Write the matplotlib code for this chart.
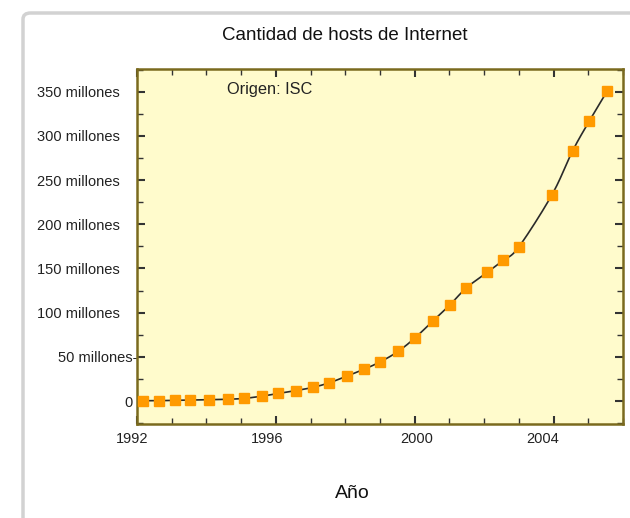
import numpy as np
import matplotlib
matplotlib.use("Agg")
import matplotlib.pyplot as plt
from matplotlib.patches import FancyBboxPatch
from matplotlib.ticker import MultipleLocator, FixedLocator
import matplotlib.transforms as mtransforms

plt.rcParams['font.family'] = ['Liberation Sans', 'DejaVu Sans']

# Data (year, millions of hosts)
years = [1992.17, 1992.62, 1993.10, 1993.54, 1994.06, 1994.63, 1995.09, 1995.60,
         1996.07, 1996.58, 1997.06, 1997.54, 1998.04, 1998.53, 1999.01, 1999.52,
         2000.01, 2000.53, 2001.01, 2001.49, 2002.09, 2002.55, 2002.99,
         2003.95, 2004.55, 2005.03, 2005.55]
hosts = [0.3, 0.4, 0.8, 1.2, 1.5, 2.0, 3.0, 5.5,
         8.6, 11.8, 15.4, 20.6, 28.2, 35.8, 44.4, 56.1,
         71.5, 90.8, 108.6, 128.1, 145.6, 159.2, 173.9,
         233.1, 283.2, 316.8, 351.1]
ytick_vals = [0, 50, 100, 150, 200, 250, 300, 350]
ytick_labels = ["0", "50 millones-", "100 millones", "150 millones", "200 millones",
                "250 millones", "300 millones", "350 millones"]
xtick_vals = [1992, 1996, 2000, 2004]
xtick_labels = ["1992", "1996", "2000", "2004"]
title = "Cantidad de hosts de Internet"
xlabel = "Año"
note = "Origen: ISC"


def catmull_rom(x, y, n=20):
    x = np.asarray(x, float)
    y = np.asarray(y, float)
    px = np.concatenate([[2 * x[0] - x[1]], x, [2 * x[-1] - x[-2]]])
    py = np.concatenate([[2 * y[0] - y[1]], y, [2 * y[-1] - y[-2]]])
    xs, ys = [], []
    t = np.linspace(0, 1, n, endpoint=False)
    for i in range(1, len(px) - 2):
        for P, out in ((px, xs), (py, ys)):
            p0, p1, p2, p3 = P[i - 1], P[i], P[i + 1], P[i + 2]
            out.append(0.5 * ((2 * p1) + (-p0 + p2) * t +
                              (2 * p0 - 5 * p1 + 4 * p2 - p3) * t ** 2 +
                              (-p0 + 3 * p1 - 3 * p2 + p3) * t ** 3))
    xs.append([x[-1]])
    ys.append([y[-1]])
    return np.concatenate(xs), np.concatenate(ys)


W, H = 630, 518
fig = plt.figure(figsize=(W / 100, H / 100), dpi=100)
fig.patch.set_facecolor("white")

# outer panel
panel = FancyBboxPatch((23 / W, -0.05), 1.2, 1 - 13 / H + 0.05,
                       boxstyle="round,pad=0,rounding_size=0.012",
                       transform=fig.transFigure, facecolor="white",
                       edgecolor="#d2d2d2", linewidth=2.5, zorder=-5)
fig.patches.append(panel)

ax = fig.add_axes([137 / W, 1 - 424 / H, 486 / W, 355 / H])
ax.set_zorder(2)
ax.set_facecolor("#fffbcc")
for s in ax.spines.values():
    s.set_color("#7a6a1e")
    s.set_linewidth(1.8)

lx, ly = catmull_rom(years, hosts)
ax.plot(lx, ly, color="#2a2a2a", linewidth=1.2, zorder=2)
ax.plot(years, hosts, linestyle="none", marker="s", markersize=7.8,
        color="#ff9a00", markeredgecolor="#ff9a00", zorder=3)

ax.set_xlim(1992, 2006)
ax.set_ylim(-26, 375.7)

ax.xaxis.set_major_locator(FixedLocator(xtick_vals))
ax.set_xticklabels(xtick_labels)
ax.xaxis.set_minor_locator(MultipleLocator(1))
ax.yaxis.set_major_locator(FixedLocator(ytick_vals))
ax.set_yticklabels(ytick_labels)
ax.yaxis.set_minor_locator(MultipleLocator(25))

ax.tick_params(which="both", direction="in", top=True, right=True,
               color="#333333", labelsize=10.5, labelcolor="#222222")
ax.tick_params(which="major", length=6, width=1.5)
ax.tick_params(which="minor", length=4, width=1.0)
ax.tick_params(axis="y", which="major", pad=12.2)
ax.tick_params(axis="x", which="major", pad=6)


def shift(lab, dx_px):
    off = mtransforms.ScaledTranslation(dx_px / 100, 0, fig.dpi_scale_trans)
    lab.set_transform(lab.get_transform() + off)


# individual label shifts as in the reference
for lab in ax.get_yticklabels():
    txt = lab.get_text()
    if txt == "50 millones-":
        shift(lab, 17)
    elif txt == "0":
        shift(lab, 13)
x_offsets = {"1992": -5, "1996": -9, "2000": 2, "2004": -11}
for lab in ax.get_xticklabels():
    shift(lab, x_offsets.get(lab.get_text(), 0))

ax.text(1992 + (228 - 137.3) / 34.8, 352, note, fontsize=11.8,
        color="#222222", ha="left", va="center")

fig.text(345 / W, 1 - 35 / H, title, fontsize=13.5, color="#111111",
         ha="center", va="center")
fig.text(352 / W, 1 - 493 / H, xlabel, fontsize=14, color="#111111",
         ha="center", va="center")

fig.savefig("out.png", dpi=100)
